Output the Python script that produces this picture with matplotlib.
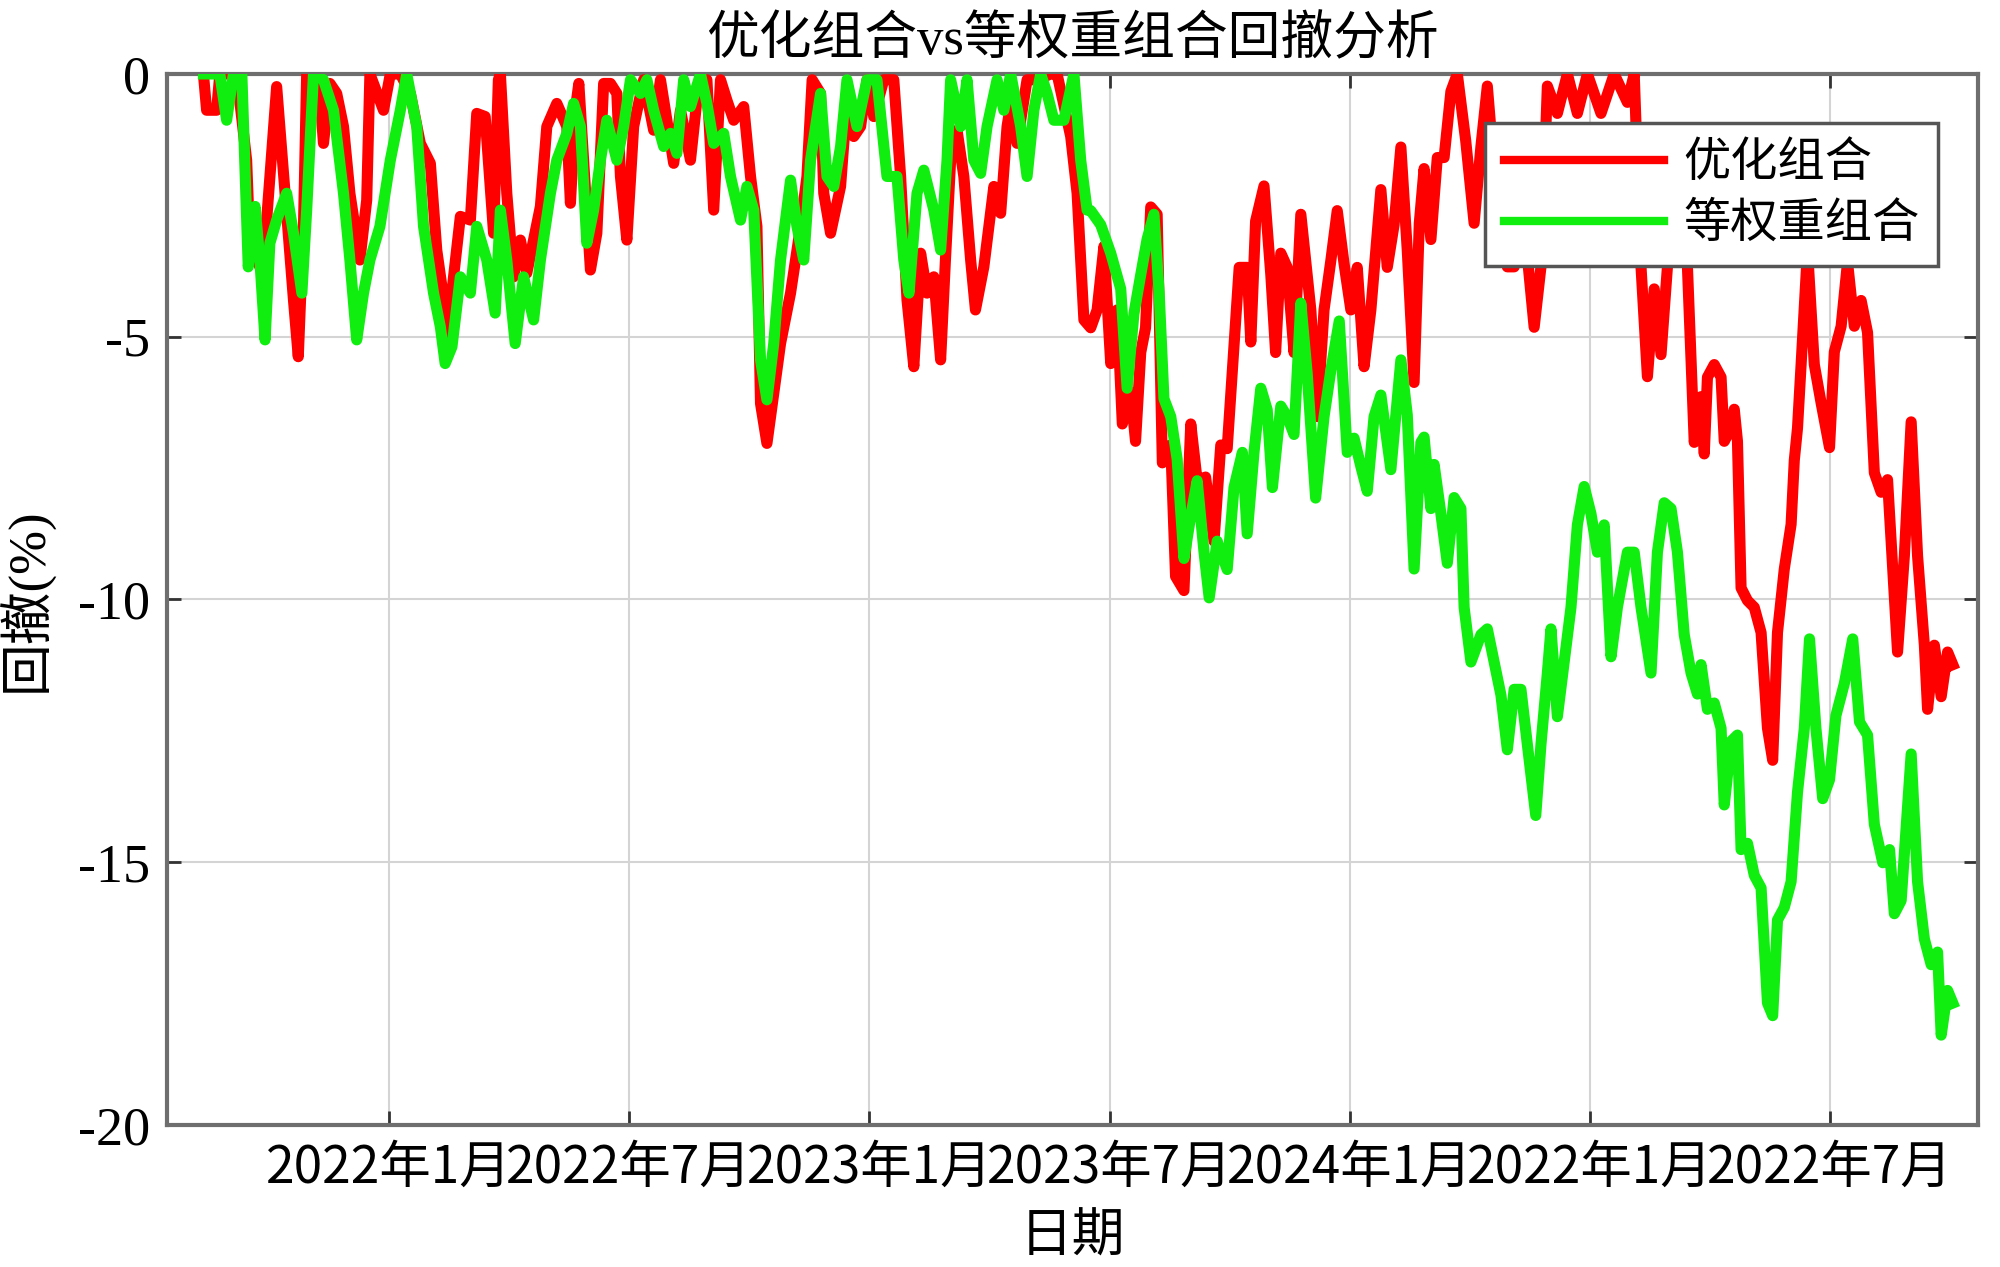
import matplotlib
matplotlib.use("Agg")
import matplotlib.pyplot as plt

# x = months after 2022-01, y = drawdown in %
opt_x = [-4.64, -4.56, -4.31, -4.23, -3.81, -3.56, -3.48, -3.23, -3.06, -2.81, -2.6, -2.39, -2.27,
         -2.14, -2.06, -1.77, -1.64, -1.48, -1.31, -1.14, -0.98, -0.73, -0.56, -0.48, -0.14, 0.03,
         0.28, 0.53, 0.78, 1.03, 1.19, 1.32, 1.44, 1.61, 1.78, 2.03, 2.19, 2.4, 2.61, 2.73,
         2.78, 2.94, 3.11, 3.28, 3.44, 3.61, 3.78, 3.94, 4.19, 4.44, 4.53, 4.65, 4.74, 4.86, 5.03,
         5.19, 5.36, 5.53, 5.69, 5.78, 5.94, 6.11, 6.36, 6.61, 6.78, 6.94, 7.11, 7.28, 7.53, 7.69,
         7.94, 8.11, 8.28, 8.44, 8.61, 8.86, 9.03, 9.19, 9.28, 9.44, 9.61, 9.78, 10.03, 10.28,
         10.44, 10.57, 10.78, 10.86, 11.03, 11.28, 11.44, 11.61, 11.78, 11.94, 12.11, 12.36, 12.61,
         12.78, 12.94, 13.11, 13.28, 13.44, 13.61, 13.78, 13.9, 14.03, 14.19, 14.36, 14.53, 14.65,
         14.86, 15.11, 15.28, 15.44, 15.57, 15.69, 15.94, 16.19, 16.53, 16.69, 17.03, 17.19, 17.36,
         17.53, 17.69, 17.86, 18.03, 18.19, 18.32, 18.53, 18.65, 18.78, 18.9, 19.03, 19.19, 19.32,
         19.53, 19.65, 19.86, 20.03, 20.19, 20.4, 20.61, 20.78, 20.94, 21.11, 21.24, 21.44, 21.53,
         21.65, 21.86, 22.03, 22.15, 22.28, 22.44, 22.61, 22.78, 23.03, 23.19, 23.36, 23.53, 23.69,
         23.86, 24.03, 24.19, 24.36, 24.53, 24.78, 24.94, 25.11, 25.28, 25.44, 25.61, 25.74, 25.86,
         26.03, 26.19, 26.36, 26.53, 26.69, 26.9, 27.11, 27.28, 27.44, 27.61, 27.78, 27.94, 28.11,
         28.36, 28.61, 28.78, 28.94, 29.19, 29.44, 29.69, 29.94, 30.28, 30.61, 30.94, 31.11, 31.28,
         31.44, 31.61, 31.78, 31.94, 32.11, 32.44, 32.61, 32.78, 32.86, 32.94, 33.11, 33.28, 33.36,
         33.53, 33.61, 33.69, 33.78, 33.94, 34.11, 34.28, 34.44, 34.57, 34.69, 34.86, 35.03, 35.11,
         35.19, 35.28, 35.44, 35.61, 35.78, 35.99, 36.11, 36.28, 36.44, 36.61, 36.78, 36.94, 37.11,
         37.28, 37.44, 37.57, 37.69, 37.86, 38.03, 38.19, 38.36, 38.44, 38.61, 38.78, 38.94, 39.07]
opt_y = [0, -0.69, -0.69, 0, 0, -1.64, -3.22, -3.67, -2.78, -0.24, -2.27, -4.3, -5.38,
         -2.9, 0, 0, -1.32, -0.18, -0.37, -1.0, -2.27, -3.54, -2.4, 0, -0.69, 0,
         0, -0.37, -1.32, -1.7, -3.35, -4.05, -5.13, -3.86, -2.71, -2.78, -0.75, -0.81, -3.03, -0.11,
         0, -2.27, -3.86, -3.16, -3.79, -3.16, -2.52, -1.0, -0.56, -1.0, -2.46, -0.69, -0.18, -1.64, -3.73,
         -3.03, -0.18, -0.18, -0.37, -1.95, -3.16, -1.0, -0.11, -1.07, -0.11, -0.88, -1.7, -0.69, -1.64, -0.5,
         -0.11, -2.59, -0.11, -0.5, -0.88, -0.62, -1.95, -2.9, -6.27, -7.03, -6.08, -5.13, -4.17, -2.9,
         -1.95, -0.11, -0.37, -2.27, -3.03, -2.14, -0.5, -1.19, -1.0, -0.11, -0.81, -0.11, -0.11,
         -1.95, -4.3, -5.57, -3.41, -4.17, -3.86, -5.44, -3.54, -1.64, -1.07, -1.95, -3.54, -4.49,
         -3.67, -2.14, -2.65, -1.0, -0.37, -1.32, -0.11, -0.11, 0, 0, -1.19, -2.27, -4.68,
         -4.83, -4.49, -3.28, -5.51, -4.49, -6.66, -6.05, -6.99, -5.3, -4.83, -2.53, -2.67, -7.4,
         -7.06, -9.56, -9.83, -6.66, -7.74, -7.67, -8.89, -7.06, -7.13, -5.17, -3.68, -3.68, -5.1,
         -2.8, -2.13, -3.82, -5.3, -3.41, -3.68, -5.3, -2.67, -4.49, -6.52, -4.49, -3.55, -2.6,
         -3.61, -4.49, -3.68, -5.57, -4.49, -2.2, -3.68, -2.87, -1.39, -3.36, -5.87, -2.84, -1.8,
         -3.15, -1.59, -1.59, -0.33, 0, -1.27, -2.84, -1.38, -0.23, -1.8, -2.84, -3.67, -3.67,
         -2.84, -4.82, -3.67, -0.23, -0.75, 0, -0.75, 0, -0.75, 0, -0.54, 0, -3.67,
         -5.76, -4.09, -5.34, -3.67, -1.27, -3.67, -7.01, -6.14, -7.23, -5.77, -5.53, -5.77, -6.99,
         -6.74, -6.38, -6.99, -9.78, -10.02, -10.15, -10.63, -12.45, -13.06, -10.63, -9.42, -8.57, -7.35,
         -6.74, -5.53, -3.34, -5.53, -6.26, -7.11, -5.29, -4.8, -3.58, -4.8, -4.31, -4.92, -7.59,
         -7.96, -7.72, -9.42, -11.0, -9.17, -6.62, -9.17, -10.87, -12.09, -10.87, -11.85, -11.0, -11.24]

eq_x = [-4.64, -4.23, -4.06, -3.89, -3.68, -3.52, -3.35, -3.23, -3.1, -2.98, -2.81, -2.56, -2.39,
        -2.18, -2.06, -1.89, -1.64, -1.39, -1.14, -0.98, -0.81, -0.64, -0.48, -0.23, 0.03, 0.28,
        0.44, 0.69, 0.86, 1.11, 1.28, 1.4, 1.57, 1.78, 2.03, 2.19, 2.44, 2.65, 2.78,
        2.94, 3.15, 3.36, 3.61, 3.78, 4.03, 4.19, 4.44, 4.61, 4.78, 4.94, 5.11, 5.28, 5.44, 5.69,
        5.86, 6.03, 6.28, 6.44, 6.61, 6.86, 7.03, 7.19, 7.36, 7.53, 7.78, 7.94, 8.11, 8.36, 8.53,
        8.78, 8.94, 9.11, 9.28, 9.44, 9.61, 9.78, 10.03, 10.19, 10.36, 10.53, 10.78,
        10.94, 11.11, 11.28, 11.44, 11.69, 11.94, 12.19, 12.44, 12.69, 12.86, 12.99, 13.19, 13.36,
        13.61, 13.78, 13.94, 14.03, 14.28, 14.44, 14.61, 14.78, 14.94, 15.19, 15.36, 15.53, 15.78,
        15.94, 16.11, 16.28, 16.44, 16.61, 16.86, 17.11, 17.28, 17.44,
        17.53, 17.78, 18.03, 18.28, 18.44, 18.61, 18.78, 18.94, 19.11, 19.24, 19.36, 19.53, 19.69,
        19.86, 20.03, 20.19, 20.36, 20.49, 20.69, 20.94, 21.11, 21.32, 21.44, 21.61, 21.78, 21.94,
        22.07, 22.28, 22.44, 22.61, 22.78, 22.94, 23.15, 23.36, 23.53, 23.74, 23.94, 24.11, 24.28,
        24.44, 24.61, 24.78, 25.03, 25.28, 25.44, 25.61, 25.78, 25.86, 26.03, 26.11, 26.28, 26.44,
        26.61, 26.78, 26.86, 27.03, 27.28, 27.44, 27.61, 27.78, 27.94, 28.11, 28.28, 28.44, 28.65,
        28.78, 28.94, 29.03, 29.19, 29.36, 29.53, 29.69, 29.86, 30.03, 30.19, 30.36, 30.53, 30.69,
        30.94, 31.11, 31.28, 31.53, 31.69, 31.86, 32.03, 32.19, 32.36, 32.53, 32.69,
        32.78, 32.94, 33.11, 33.28, 33.36, 33.53, 33.69, 33.78, 33.94, 34.11, 34.28, 34.44, 34.57,
        34.69, 34.86, 35.03, 35.19, 35.36, 35.49, 35.65, 35.82, 35.99, 36.15, 36.36, 36.57, 36.74,
        36.94, 37.11, 37.32, 37.49, 37.61, 37.78, 38.03, 38.19, 38.36, 38.53, 38.69, 38.78, 38.94, 39.07]
eq_y = [0, 0, -0.88, 0, 0, -3.67, -2.52, -3.54, -5.06, -3.22, -2.78, -2.27, -3.03,
        -4.17, -2.59, 0, -0.11, -0.69, -2.27, -3.54, -5.06, -4.17, -3.54, -2.9, -1.64, -0.69,
        0, -1.0, -2.9, -4.17, -4.81, -5.51, -5.19, -3.86, -4.17, -2.9, -3.54, -4.55, -2.59,
        -3.54, -5.13, -3.86, -4.68, -3.54, -2.27, -1.64, -1.13, -0.56, -1.0, -3.22, -2.59, -1.64, -0.88, -1.64,
        -1.0, -0.11, -0.37, -0.11, -0.69, -1.38, -1.13, -1.51, -0.11, -0.62, 0, -0.56, -1.32, -1.13, -1.95,
        -2.78, -2.14, -2.59, -5.44, -6.2, -5.13, -3.54, -2.02, -2.9, -3.54, -1.64, -0.37,
        -1.95, -2.14, -1.38, -0.11, -1.0, -0.11, -0.11, -1.95, -1.95, -3.54, -4.17, -2.27, -1.83,
        -2.59, -3.35, -1.64, -0.11, -1.0, -0.11, -1.64, -1.89, -1.0, -0.11, -0.69, 0, -1.0,
        -1.95, -0.69, 0, -0.37, -0.88, -0.88, 0, -1.64, -2.59,
        -2.6, -2.87, -3.41, -4.09, -5.98, -4.56, -3.82, -3.14, -2.67, -4.16, -6.18, -6.52, -7.33,
        -9.22, -8.41, -7.74, -9.09, -9.97, -8.89, -9.43, -7.87, -7.2, -8.75, -7.2, -5.98, -6.39,
        -7.87, -6.32, -6.52, -6.86, -4.36, -5.71, -8.07, -6.52, -5.64, -4.7, -7.2, -6.93, -7.47,
        -7.94, -6.52, -6.11, -7.53, -5.44, -6.49, -9.42, -7.01, -6.91, -8.27, -7.43, -8.37, -9.31,
        -8.06, -8.27, -10.15, -11.19, -10.67, -10.56, -11.19, -11.82, -12.86, -11.71, -11.71, -12.76, -14.11,
        -12.76, -11.4, -10.56, -12.23, -11.19, -10.15, -8.58, -7.85, -8.37, -9.1, -8.58, -11.09, -10.15,
        -9.1, -9.1, -10.15, -11.4, -9.1, -8.16, -8.27, -9.1, -10.67, -11.4, -11.8,
        -11.24, -12.09, -11.97, -12.45, -13.91, -12.7, -12.58, -14.76, -14.64, -15.25, -15.49, -17.68, -17.92,
        -16.1, -15.86, -15.37, -13.67, -12.45, -10.75, -12.45, -13.79, -13.43, -12.21, -11.6, -10.75, -12.33,
        -12.58, -14.28, -15.01, -14.76, -15.98, -15.73, -12.94, -15.37, -16.46, -16.95, -16.71, -18.29, -17.44, -17.68]

tick_pos = [0, 6, 12, 18, 24, 30, 36]
tick_labels = ["2022年1月", "2022年7月", "2023年1月", "2023年7月", "2024年1月", "2022年1月", "2022年7月"]
names = ["优化组合", "等权重组合"]

plt.rcParams['font.family'] = ['Liberation Serif', 'Noto Sans CJK SC']

fig = plt.figure(figsize=(20, 12.67), dpi=100)
ax = fig.add_axes([0.0835, 0.1121, 0.9055, 0.8295])

ax.plot(opt_x, opt_y, color='#ff0000', lw=8, label=names[0], zorder=3)
ax.plot(eq_x, eq_y, color='#10ee10', lw=8, label=names[1], zorder=4)

ax.set_xlim(-5.55, 39.7)
ax.set_ylim(-20, 0)
ax.set_yticks([0, -5, -10, -15, -20])
ax.set_yticklabels(["0", "-5", "-10", "-15", "-20"], fontsize=39)
ax.set_xticks(tick_pos)
ax.set_xticklabels(tick_labels, fontsize=37,
                   family=['Liberation Sans Narrow', 'Noto Sans CJK SC'])

ax.grid(True, color='#d4d4d4', lw=1.5)
ax.set_axisbelow(True)
ax.tick_params(direction='in', length=10, width=2, color='#333333', top=True, right=True,
               pad=12)
for s in ax.spines.values():
    s.set_color('#6e6e6e')
    s.set_linewidth(3)

ax.set_title("优化组合vs等权重组合回撤分析", fontsize=38, pad=14)
ax.set_xlabel("日期", fontsize=38, labelpad=14)
ax.set_ylabel("回撤(%)", fontsize=38, labelpad=18)

leg = ax.legend(loc='upper right', bbox_to_anchor=(0.978, 0.953), fontsize=34,
                handlelength=3.4, fancybox=False, framealpha=1, borderpad=0.4,
                labelspacing=0.35, handletextpad=0.4, borderaxespad=0)
leg.get_frame().set_edgecolor('#555555')
leg.get_frame().set_linewidth(2.5)
for line in leg.get_lines():
    line.set_linewidth(6)

fig.savefig("out.png", dpi=100)
